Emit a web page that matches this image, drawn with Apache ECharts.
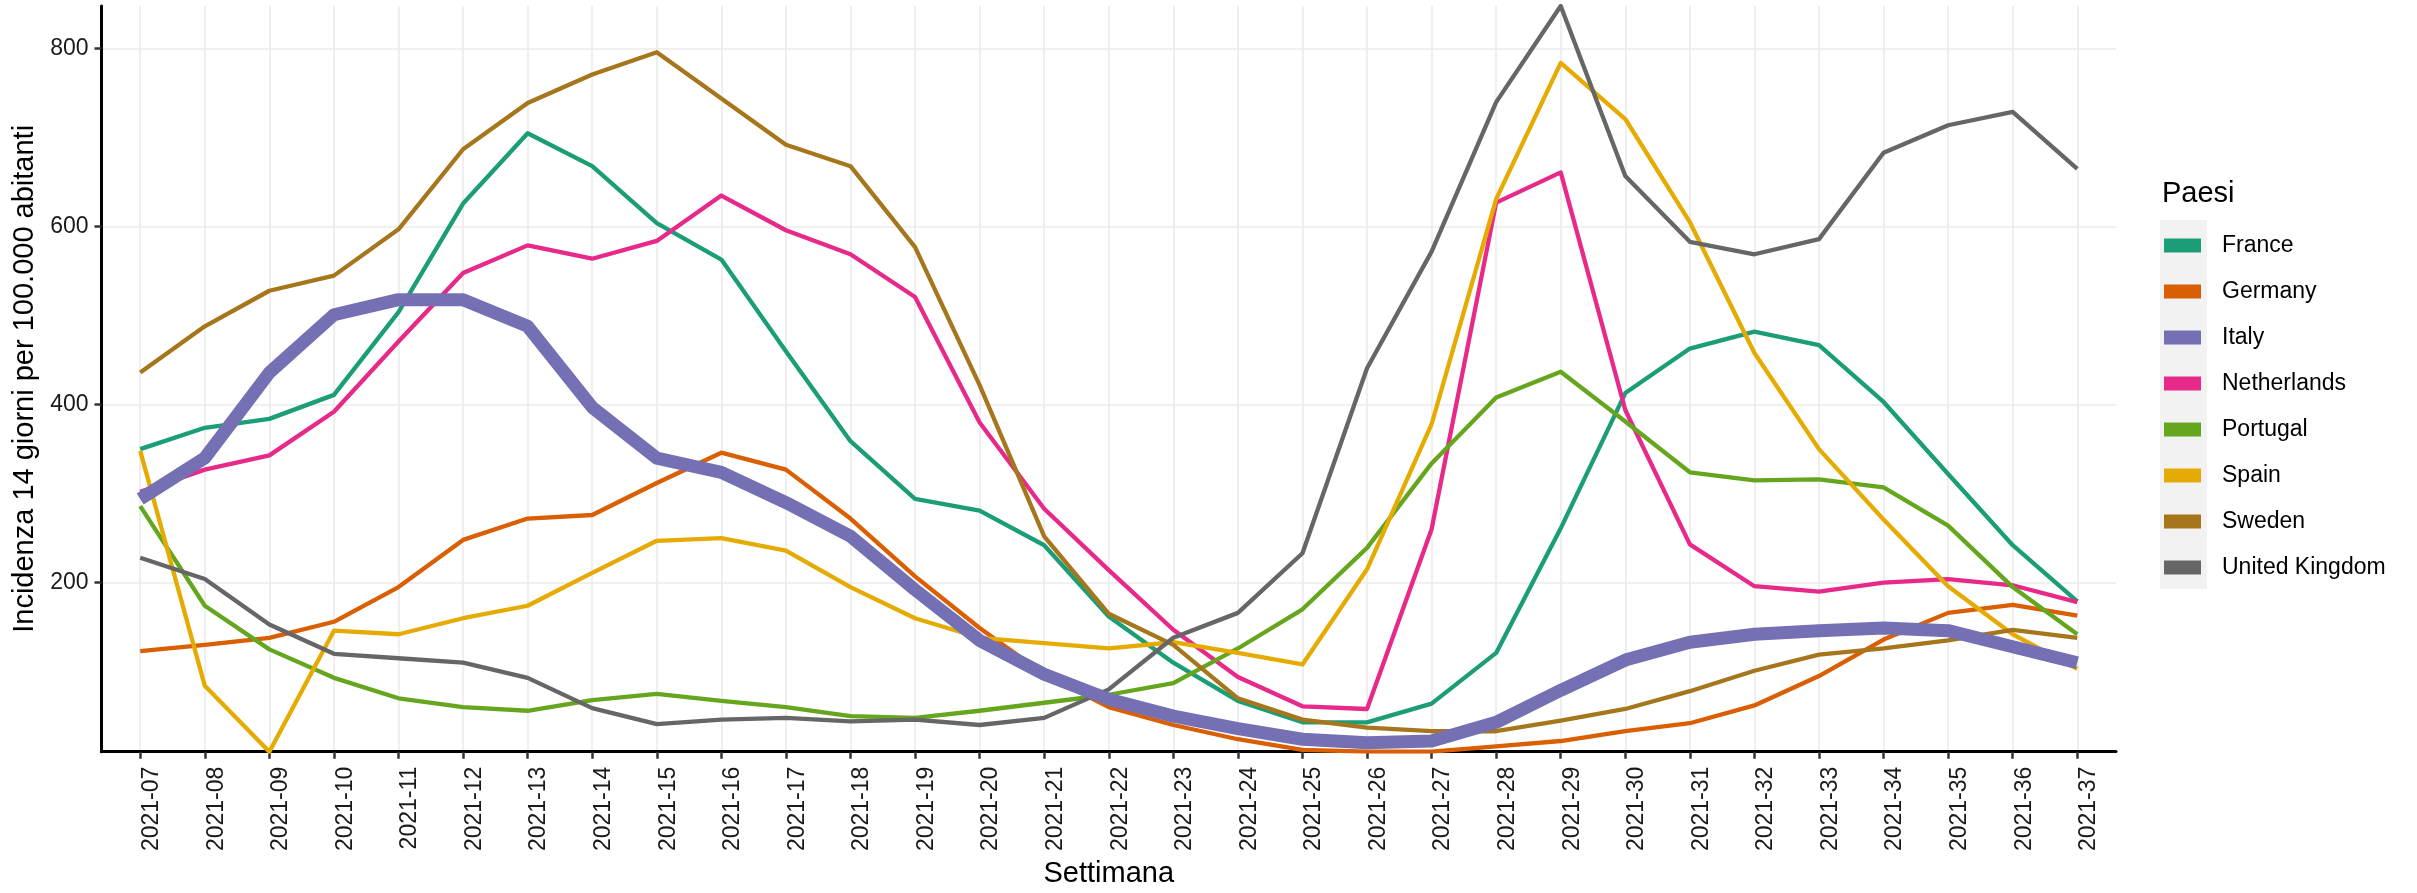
<!DOCTYPE html>
<html>
<head>
<meta charset="utf-8">
<script src="https://cdn.jsdelivr.net/npm/echarts@6/dist/echarts.min.js"></script>
<style>
html,body{margin:0;padding:0;background:#fff;}
#chart{width:2417px;height:893px;}
</style>
</head>
<body>
<div id="chart"></div>
<script>
const weeks = ['2021-07','2021-08','2021-09','2021-10','2021-11','2021-12','2021-13','2021-14','2021-15','2021-16','2021-17','2021-18','2021-19','2021-20','2021-21','2021-22','2021-23','2021-24','2021-25','2021-26','2021-27','2021-28','2021-29','2021-30','2021-31','2021-32','2021-33','2021-34','2021-35','2021-36','2021-37'];
const yTicks = [200, 400, 600, 800];
const countries = ['France','Germany','Italy','Netherlands','Portugal','Spain','Sweden','United Kingdom'];
const colors = ['#1B9E77','#D95F02','#7570B3','#E7298A','#66A61E','#E6AB02','#A6761D','#666666'];

const france      = [350,374,384,411,504,626,705,668,604,563,460,359,294,281,242,162,110,67,43,43,64,121,261,413,463,482,467,403,322,242,179];
const germany     = [123,130,138,156,195,248,272,276,312,346,327,272,207,149,97,60,40,24,12,10,10,16,22,33,42,62,95,136,166,175,163];
const italy       = [294,340,436,501,518,518,488,397,340,324,290,252,192,135,97,69,50,36,24,20,22,43,79,113,133,142,146,149,146,128,110];
const netherlands = [302,327,343,392,471,548,579,564,584,635,596,569,521,380,283,214,147,94,61,58,260,627,661,394,243,196,190,200,204,197,178];
const portugal    = [286,174,125,93,70,60,56,68,75,67,60,50,48,56,65,74,87,126,170,239,334,408,437,381,324,315,316,307,264,195,142];
const spain       = [348,84,10,146,142,160,174,211,247,250,236,195,160,138,132,126,133,121,108,215,378,631,784,721,605,458,350,271,196,142,103];
const sweden      = [436,488,528,545,597,687,739,771,796,744,692,668,577,422,252,165,130,70,46,37,33,33,45,58,78,101,119,126,135,147,138];
const uk          = [228,204,153,120,115,110,93,59,41,46,48,44,46,40,48,80,138,166,233,441,572,740,848,657,583,569,586,683,714,729,665];

const seriesValues = [france, germany, italy, netherlands, portugal, spain, sweden, uk];
const xIdx = weeks.map((w, i) => i);

const FONT = '"Liberation Sans", Arial, Helvetica, sans-serif';

const chart = echarts.init(document.getElementById('chart'), null, {renderer: 'canvas'});

const series = countries.map((name, k) => ({
  name: name,
  type: 'line',
  data: seriesValues[k].map((v, i) => [i, v]),
  symbol: 'none',
  showSymbol: false,
  silent: true,
  z: name === 'Italy' ? 4 : 3,
  color: colors[k],
  lineStyle: {width: name === 'Italy' ? 13 : 4.3, color: colors[k], cap: 'butt', join: 'round'},
  itemStyle: {color: colors[k]},
  emphasis: {disabled: true}
}));

chart.setOption({
  animation: false,
  backgroundColor: '#ffffff',
  textStyle: {fontFamily: FONT},
  title: {
    text: 'Paesi',
    left: 2162,
    top: 179,
    padding: 0,
    textStyle: {fontFamily: FONT, fontSize: 29, fontWeight: 'normal', color: '#000'}
  },
  legend: {
    orient: 'vertical',
    left: 2164,
    top: 234,
    padding: 0,
    icon: 'rect',
    itemWidth: 37,
    itemHeight: 14,
    itemGap: 23,
    selectedMode: false,
    data: countries,
    textStyle: {fontFamily: FONT, fontSize: 23, lineHeight: 23, color: '#000', padding: [0, 0, 0, 16]}
  },
  graphic: [{
    type: 'rect',
    left: 2160,
    top: 220,
    z: -10,
    silent: true,
    shape: {width: 47, height: 369},
    style: {fill: '#f2f2f2'}
  }],
  grid: {left: 101.5, right: 301, top: 6, bottom: 132},
  xAxis: {
    type: 'value',
    min: -0.6,
    max: 30.6,
    name: 'Settimana',
    nameLocation: 'middle',
    nameGap: 103,
    nameTextStyle: {fontFamily: FONT, fontSize: 29, color: '#000', verticalAlign: 'top'},
    axisLine: {show: true, onZero: false, lineStyle: {color: '#000', width: 3}},
    axisTick: {show: true, length: 7, customValues: xIdx, lineStyle: {color: '#333', width: 2.5}},
    axisLabel: {
      show: true,
      customValues: xIdx,
      rotate: 90,
      margin: 15,
      verticalAlign: 'top',
      fontFamily: FONT,
      fontSize: 23,
      color: '#1a1a1a',
      formatter: v => weeks[Math.round(v)]
    },
    splitLine: {show: true, lineStyle: {color: '#ebebeb', width: 1.6}}
  },
  yAxis: {
    type: 'value',
    min: 10,
    max: 848,
    name: 'Incidenza 14 giorni per 100.000 abitanti',
    nameLocation: 'middle',
    nameRotate: 90,
    nameGap: 56,
    nameTextStyle: {fontFamily: FONT, fontSize: 29, color: '#000'},
    axisLine: {show: true, onZero: false, lineStyle: {color: '#000', width: 3}},
    axisTick: {show: true, length: 7, customValues: yTicks, lineStyle: {color: '#333', width: 2.5}},
    axisLabel: {show: true, customValues: yTicks, margin: 13, fontFamily: FONT, fontSize: 23, color: '#1a1a1a'},
    splitLine: {show: true, lineStyle: {color: '#ebebeb', width: 1.6}}
  },
  series: series
});
</script>
</body>
</html>
